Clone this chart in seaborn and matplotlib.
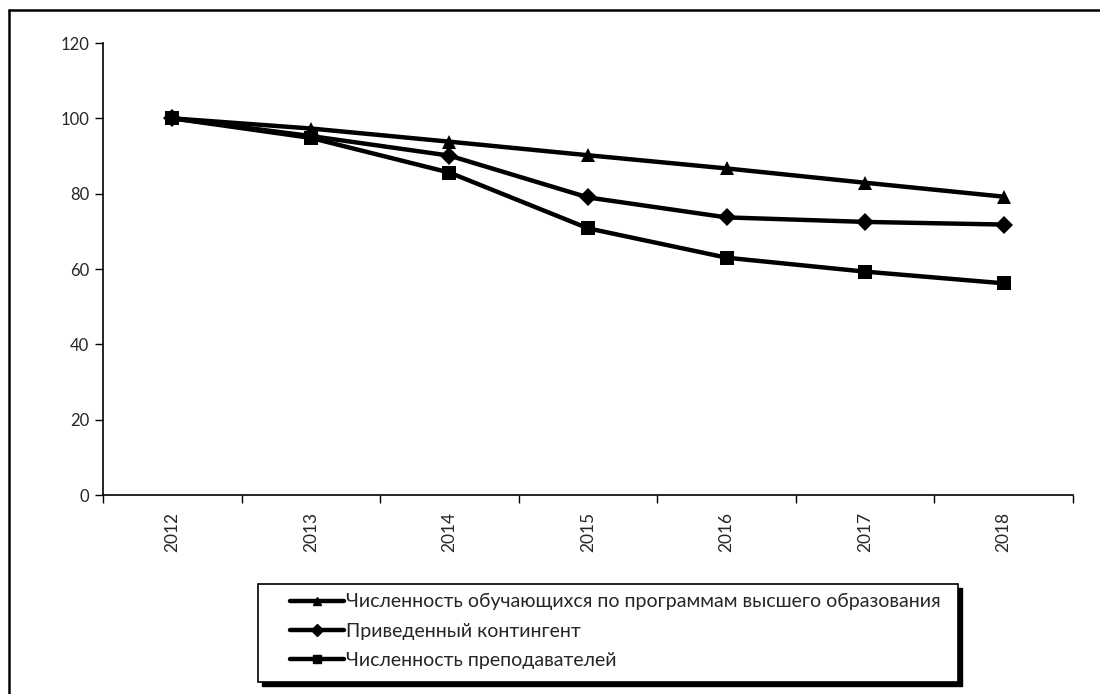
import matplotlib
matplotlib.use("Agg")
import matplotlib.pyplot as plt
import seaborn as sns
import pandas as pd
from matplotlib.lines import Line2D
from matplotlib.patches import Rectangle

years = ["2012", "2013", "2014", "2015", "2016", "2017", "2018"]
students = [100, 97.3, 93.8, 90.2, 86.7, 82.9, 79.2]
contingent = [100, 95.3, 90.1, 79.0, 73.7, 72.5, 71.8]
teachers = [100, 94.8, 85.6, 70.8, 63.0, 59.3, 56.2]
labels = ["Численность обучающихся по программам высшего образования",
          "Приведенный контингент",
          "Численность преподавателей"]
markers = ["^", "D", "s"]
msizes = [10.5, 9, 9.5]
yticks = [0, 20, 40, 60, 80, 100, 120]

sns.set_theme(style="white")
plt.rcParams['font.family'] = ['Lato', 'DejaVu Sans']

W, H = 1100, 694
fig = plt.figure(figsize=(11, 6.94), dpi=100)
ax = fig.add_axes([103 / W, 1 - 495 / H, (1073 - 103) / W, (495 - 43) / H])

df = pd.DataFrame({"year": years * 3,
                   "value": students + contingent + teachers,
                   "series": sum([[l] * len(years) for l in labels], [])})

for lab, m, ms in zip(labels, markers, msizes):
    sub = df[df["series"] == lab]
    sns.lineplot(data=sub, x="year", y="value", ax=ax, color="black",
                 linewidth=3.2, marker=m, markersize=ms, markeredgecolor="black",
                 markeredgewidth=0, legend=False, sort=False)

ax.set_xlim(-0.5, 6.5)
ax.set_ylim(0, 120)
ax.set_yticks(yticks)
ax.set_yticklabels([str(v) for v in yticks], fontsize=12)
ax.set_xticks(range(len(years)))
ax.set_xticklabels(years, rotation=90, fontsize=12.5)
ax.set_xticks([i - 0.5 for i in range(len(years) + 1)], minor=True)
ax.tick_params(axis="x", which="major", length=0, pad=12)
ax.tick_params(axis="x", which="minor", length=6, width=1, color="black", direction="out", bottom=True)
ax.tick_params(axis="y", length=6, width=1, color="black", direction="out", left=True, pad=4)
ax.set_xlabel("")
ax.set_ylabel("")
for s in ["top", "right"]:
    ax.spines[s].set_visible(False)
for s in ["left", "bottom"]:
    ax.spines[s].set_color("black")
    ax.spines[s].set_linewidth(1.2)

# legend box with black shadow
bx0, bx1, by0, by1 = 258, 958, 584, 682
fig.add_artist(Rectangle(((bx0 + 4) / W, 1 - (by1 + 4) / H), (bx1 - bx0) / W, (by1 - by0) / H,
                         transform=fig.transFigure, facecolor="black", edgecolor="black", zorder=5))
fig.add_artist(Rectangle((bx0 / W, 1 - by1 / H), (bx1 - bx0) / W, (by1 - by0) / H,
                         transform=fig.transFigure, facecolor="white", edgecolor="black",
                         linewidth=1.2, zorder=6))

handles = [Line2D([0], [0], color="black", lw=3.2, marker=m, markersize=6) for m in markers]
leg = fig.legend(handles, labels, loc="center left",
                 bbox_to_anchor=(290 / W, 1 - 631 / H),
                 frameon=False, fontsize=14,
                 handlelength=2.8, handletextpad=0.1, labelspacing=0.62,
                 borderpad=0, borderaxespad=0)
leg.set_zorder(7)

# outer frame (left and top visible)
fig.add_artist(Line2D([9 / W, 9 / W], [0, 1 - 10 / H], color="black", lw=1.8, transform=fig.transFigure))
fig.add_artist(Line2D([9 / W, 1], [1 - 10 / H, 1 - 10 / H], color="black", lw=1.8, transform=fig.transFigure))

fig.savefig("out.png", dpi=100)
